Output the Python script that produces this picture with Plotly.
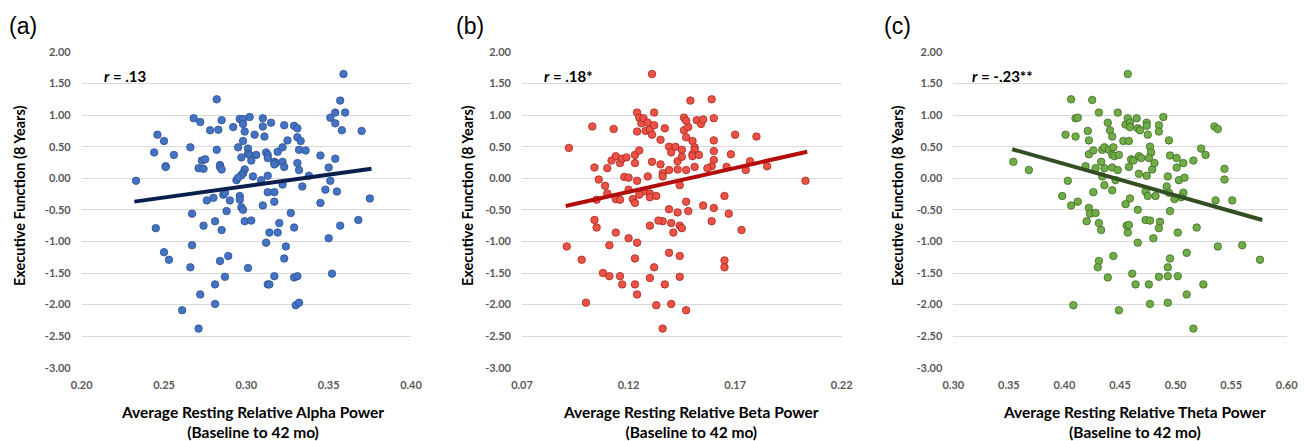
import plotly.graph_objects as go

# ---------------- data ----------------
alpha_x = [0.233,0.244,0.246,0.250,0.251,0.251,0.256,0.245,0.250,0.253,0.266,0.267,0.268,0.272,0.274,0.273,0.275,0.271,0.274,0.276,
           0.278,0.280,0.282,0.283,0.282,0.284,0.284,0.285,0.285,0.286,0.287,0.290,0.292,0.288,0.281,0.285,0.267,0.266,0.272,0.261,
           0.271,0.281,0.281,0.284,0.287,0.289,0.295,0.296,0.298,0.298,0.299,0.298,0.301,0.297,0.301,0.302,0.303,0.299,0.298,0.297,
           0.294,0.295,0.296,0.296,0.297,0.298,0.299,0.303,0.302,0.304,0.305,0.306,0.310,0.310,0.311,0.309,0.312,0.313,0.313,0.313,
           0.313,0.310,0.315,0.317,0.318,0.317,0.317,0.317,0.319,0.322,0.322,0.323,0.322,0.320,0.314,0.319,0.312,0.324,0.323,0.317,
           0.313,0.314,0.301,0.323,0.325,0.329,0.331,0.331,0.333,0.332,0.336,0.331,0.332,0.334,0.338,0.327,0.329,0.329,0.331,0.330,
           0.332,0.345,0.350,0.351,0.348,0.345,0.355,0.354,0.351,0.354,0.354,0.357,0.360,0.359,0.358,0.370,0.375,0.368,0.357,0.350,0.352]
alpha_y = [-0.04,0.41,0.69,0.59,0.19,0.18,0.37,-0.79,-1.17,-1.29,0.49,-0.56,0.95,0.89,-0.75,0.28,0.30,0.16,0.15,-0.35,
           0.76,-0.31,1.25,0.77,0.45,0.21,0.18,0.14,0.92,-0.26,-0.23,-0.35,0.81,-0.52,-0.68,-0.82,-1.06,-1.41,-1.84,-2.09,
           -2.38,-1.99,-1.68,-1.31,-1.56,-1.23,0.49,0.94,0.94,0.86,0.74,0.59,0.47,0.33,0.39,0.37,0.28,0.14,0.08,0.05,
           -0.03,0.01,-0.28,-0.34,-0.46,-0.50,-0.68,-0.67,0.97,0.03,0.69,0.37,0.95,0.82,0.66,-0.03,0.41,0.37,0.32,0.04,
           -0.22,-0.43,0.88,0.26,0.24,0.22,-0.22,-0.37,0.42,0.49,0.26,0.18,-0.10,-0.71,-0.86,-0.86,-1.02,-1.08,-1.27,-1.55,
           -1.68,-1.68,-1.42,0.84,0.60,0.83,0.79,0.65,0.59,0.45,0.44,0.24,0.13,-0.13,0.04,-0.55,-0.78,-1.57,-1.55,-2.01,
           -1.97,0.36,0.17,-0.04,-0.18,-0.39,-0.21,0.31,0.96,1.04,0.87,1.23,1.04,1.65,0.76,0.75,-0.32,-0.66,-0.75,-0.95,-1.51]

beta_x = [0.092,0.091,0.103,0.100,0.098,0.104,0.106,0.104,0.105,0.109,0.110,0.113,0.110,0.105,0.112,0.114,0.114,0.116,0.116,0.117,
          0.119,0.118,0.120,0.120,0.122,0.123,0.123,0.123,0.125,0.124,0.124,0.125,0.126,0.124,0.127,0.128,0.129,0.130,0.131,0.131,
          0.132,0.132,0.129,0.131,0.130,0.130,0.133,0.127,0.125,0.135,0.135,0.136,0.136,0.137,0.139,0.140,0.142,0.143,0.139,0.143,
          0.144,0.145,0.145,0.146,0.146,0.147,0.148,0.147,0.149,0.150,0.151,0.151,0.150,0.150,0.151,0.147,0.153,0.152,0.154,0.155,
          0.159,0.160,0.160,0.160,0.160,0.159,0.157,0.160,0.159,0.155,0.148,0.147,0.143,0.139,0.136,0.134,0.140,0.141,0.144,0.145,
          0.130,0.165,0.167,0.168,0.166,0.170,0.173,0.175,0.177,0.180,0.185,0.203,0.165,0.165,0.114,0.120,0.124,0.111,0.108,0.111,
          0.116,0.117,0.123,0.123,0.124,0.132,0.130,0.137,0.139,0.144,0.144,0.133,0.140,0.147,0.136]
beta_y = [0.48,-1.08,0.82,-1.97,-1.29,0.17,-0.02,-0.66,-0.78,-0.12,-0.24,0.78,0.16,-0.34,0.28,0.35,-0.33,-0.34,0.24,0.31,
          0.33,0.02,0.01,-0.18,-0.33,-0.39,0.24,0.37,0.44,-0.04,1.04,0.96,0.87,0.74,0.95,0.75,0.88,0.77,0.69,1.65,
          0.84,1.04,0.03,0.26,-0.24,-0.30,-0.28,-0.21,-0.26,0.61,0.22,0.08,0.03,0.79,0.50,0.41,0.50,0.27,0.13,0.14,
          -0.11,0.45,0.34,0.76,0.96,0.65,0.81,0.91,1.23,0.59,0.49,0.45,0.38,0.35,0.18,0.13,0.37,0.92,0.86,0.93,
          1.25,0.95,0.60,0.43,0.29,0.19,0.16,-0.47,-0.68,-0.43,-0.52,-0.37,-0.54,-0.49,-0.68,-0.67,-0.71,-0.86,-0.75,-0.79,
          -0.75,-0.28,-0.56,0.38,0.18,0.69,-0.82,0.13,0.27,0.66,0.19,-0.04,-1.30,-1.41,-0.86,-0.95,-1.02,-1.06,-1.50,-1.55,
          -1.55,-1.68,-1.27,-1.68,-1.84,-1.41,-1.58,-1.68,-1.18,-1.23,-1.56,-2.01,-1.99,-2.09,-2.38]

theta_x = [0.354,0.368,0.401,0.406,0.403,0.398,0.406,0.410,0.412,0.410,0.412,0.408,0.419,0.421,0.422,0.422,0.426,0.425,0.426,0.422,
           0.423,0.428,0.420,0.431,0.433,0.428,0.431,0.434,0.436,0.436,0.433,0.434,0.436,0.439,0.441,0.443,0.440,0.444,0.443,0.445,
           0.443,0.449,0.448,0.446,0.443,0.448,0.453,0.458,0.455,0.457,0.459,0.459,0.457,0.460,0.462,0.458,0.459,0.455,0.456,0.458,
           0.457,0.465,0.466,0.468,0.467,0.469,0.467,0.466,0.466,0.474,0.474,0.475,0.477,0.478,0.476,0.479,0.481,0.474,0.473,0.475,
           0.482,0.473,0.477,0.486,0.485,0.480,0.485,0.485,0.489,0.494,0.495,0.493,0.492,0.494,0.495,0.501,0.501,0.503,0.508,0.507,
           0.507,0.505,0.502,0.499,0.516,0.523,0.527,0.519,0.535,0.538,0.536,0.544,0.544,0.551,0.538,0.560,0.576,0.431,0.430,0.444,
           0.439,0.461,0.464,0.476,0.477,0.449,0.485,0.493,0.493,0.495,0.502,0.510,0.510,0.493,0.525,0.516]
theta_y = [0.26,0.13,0.69,1.25,-0.04,-0.28,-0.43,0.95,0.96,0.66,-0.37,-2.01,0.19,0.75,0.60,0.38,0.44,1.24,-0.22,-0.47,
           -0.56,-0.55,-0.68,-0.71,-0.82,0.16,1.04,0.45,0.49,0.16,0.26,0.03,-0.11,0.88,0.76,0.66,0.45,0.49,0.37,0.35,
           0.17,0.37,0.13,-0.03,-0.19,1.04,0.59,0.59,0.85,0.95,0.88,0.81,1.65,0.30,0.28,0.18,-0.32,-0.41,-0.75,-0.74,
           -0.86,0.95,0.79,0.76,0.35,0.32,0.07,-0.50,-1.02,0.88,0.83,0.69,0.50,0.41,0.32,0.14,0.24,0.04,-0.21,-0.28,
           -0.28,-0.66,-0.67,-0.69,-0.79,-0.95,0.84,0.74,0.97,0.60,0.36,0.03,-0.13,-0.23,-0.52,0.17,0.32,-0.03,0.01,0.24,
           -0.23,-0.30,-0.86,-0.33,0.28,0.47,0.37,-0.78,0.82,0.78,-0.35,0.15,-0.02,-0.35,-1.08,-1.06,-1.29,-1.31,-1.41,-1.23,
           -1.57,-1.51,-1.68,-1.68,-1.99,-2.09,-1.56,-1.55,-1.41,-1.27,-1.55,-1.18,-1.84,-1.97,-1.68,-2.38]

# fitted trend lines (start, end)
alpha_trend_x = [0.232, 0.376]
alpha_trend_y = [-0.37, 0.15]
beta_trend_x = [0.0905, 0.2038]
beta_trend_y = [-0.44, 0.42]
theta_trend_x = [0.353, 0.578]
theta_trend_y = [0.46, -0.66]

y_tickvals = [2.0, 1.5, 1.0, 0.5, 0.0, -0.5, -1.0, -1.5, -2.0, -2.5, -3.0]
y_ticktext = ["2.00", "1.50", "1.00", "0.50", "0.00", "-0.50", "-1.00", "-1.50", "-2.00", "-2.50", "-3.00"]
alpha_xticks = [0.20, 0.25, 0.30, 0.35, 0.40]
alpha_xtext = ["0.20", "0.25", "0.30", "0.35", "0.40"]
beta_xticks = [0.07, 0.12, 0.17, 0.22]
beta_xtext = ["0.07", "0.12", "0.17", "0.22"]
theta_xticks = [0.30, 0.35, 0.40, 0.45, 0.50, 0.55, 0.60]
theta_xtext = ["0.30", "0.35", "0.40", "0.45", "0.50", "0.55", "0.60"]

panel_labels = ["(a)", "(b)", "(c)"]
r_labels = ["<i>r</i> = .13", "<i>r</i> = .18*", "<i>r</i> = -.23**"]
x_titles = ["Average Resting Relative Alpha Power", "Average Resting Relative Beta Power",
            "Average Resting Relative Theta Power"]
x_sub = "(Baseline to 42 mo)"
y_title = "Executive Function (8 Years)"

# ---------------- figure ----------------
W, H = 1304, 441
FONT = "Lato, 'Open Sans', sans-serif"
LABEL_FONT = "'Liberation Sans', Arial, sans-serif"

panels = [
    dict(x=alpha_x, y=alpha_y, tx=alpha_trend_x, ty=alpha_trend_y, fill="#4472C4", edge="#2F528F",
         line="#0B1F4F", xr=[0.20, 0.40], xt=alpha_xticks, xtt=alpha_xtext, dom=(81.7, 411)),
    dict(x=beta_x, y=beta_y, tx=beta_trend_x, ty=beta_trend_y, fill="#EE5246", edge="#A5281E",
         line="#B40C0C", xr=[0.07, 0.22], xt=beta_xticks, xtt=beta_xtext, dom=(522, 841.7)),
    dict(x=theta_x, y=theta_y, tx=theta_trend_x, ty=theta_trend_y, fill="#70AD47", edge="#3F6B25",
         line="#344E24", xr=[0.30, 0.60], xt=theta_xticks, xtt=theta_xtext, dom=(953.3, 1286.7)),
]

fig = go.Figure()
layout = dict(width=W, height=H, margin=dict(l=0, r=0, t=0, b=0, pad=0, autoexpand=False),
              paper_bgcolor="white", plot_bgcolor="white", showlegend=False,
              font=dict(family=FONT), template="none")
ydom = [1 - 368 / H, 1 - 51.7 / H]

for i, p in enumerate(panels):
    n = "" if i == 0 else str(i + 1)
    fig.add_trace(go.Scatter(x=p["x"], y=p["y"], mode="markers", xaxis="x" + n, yaxis="y" + n,
                             marker=dict(size=7.5, color=p["fill"], line=dict(color=p["edge"], width=0.8))))
    fig.add_trace(go.Scatter(x=p["tx"], y=p["ty"], mode="lines", xaxis="x" + n, yaxis="y" + n,
                             line=dict(color=p["line"], width=4)))
    layout["xaxis" + n] = dict(domain=[p["dom"][0] / W, p["dom"][1] / W], range=p["xr"],
                               tickvals=p["xt"], ticktext=p["xtt"], showgrid=False, zeroline=False,
                               showline=False, ticks="", anchor="y" + n, ticklabelstandoff=9, automargin=False,
                               tickfont=dict(size=11, color="#595959", family=FONT, weight="bold"))
    layout["yaxis" + n] = dict(domain=ydom, range=[-3.004, 2.004], tickvals=y_tickvals, ticktext=y_ticktext,
                               showgrid=True, gridcolor="#D9D9D9", gridwidth=1, zeroline=False,
                               showline=False, ticks="", anchor="x" + n, ticklabelstandoff=10, automargin=False,
                               tickfont=dict(size=11, color="#595959", family=FONT, weight="bold"))

fig.update_layout(**layout)

panel_lx = [7, 454, 882]
r_lx = [102, 542, 970]
xt_cx = [252, 691, 1134]
yt_cx = [19, 467, 897]
for i in range(3):
    fig.add_annotation(text=panel_labels[i], xref="paper", yref="paper", x=panel_lx[i] / W, y=1 - 26 / H,
                       xanchor="left", yanchor="middle", showarrow=False,
                       font=dict(size=23, color="black", family=LABEL_FONT))
    fig.add_annotation(text="<b>" + r_labels[i] + "</b>", xref="paper", yref="paper", x=r_lx[i] / W,
                       y=1 - 76 / H, xanchor="left", yanchor="middle", showarrow=False,
                       font=dict(size=15, color="black", family=FONT))
    fig.add_annotation(text="<b>" + x_titles[i] + "<br>" + x_sub + "</b>", xref="paper", yref="paper",
                       x=xt_cx[i] / W, y=1 - 422 / H, xanchor="center", yanchor="middle", showarrow=False,
                       font=dict(size=15.5, color="black", family=FONT))
    fig.add_annotation(text="<b>" + y_title + "</b>", xref="paper", yref="paper", x=yt_cx[i] / W,
                       y=1 - 196 / H, xanchor="center", yanchor="middle", showarrow=False, textangle=-90,
                       font=dict(size=14.5, color="black", family=FONT))

fig.write_html("out.html", config={"displayModeBar": False},
               post_script="document.body.style.margin='0';document.body.style.overflow='hidden';")
